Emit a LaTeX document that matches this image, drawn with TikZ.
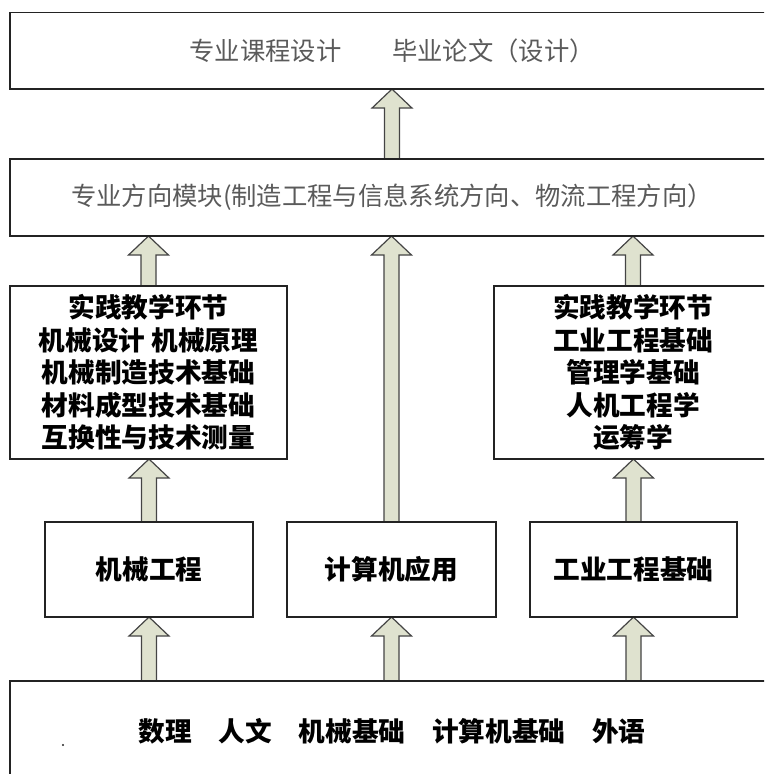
\documentclass[tikz,border=0pt]{standalone}
\usepackage{fontspec}
\setmainfont{Noto Sans CJK SC}
\usetikzlibrary{calc,backgrounds}

\definecolor{relleno}{RGB}{223,226,207}
\definecolor{borde}{RGB}{35,35,35}
\definecolor{textogris}{RGB}{90,90,90}

\tikzset{
  caja/.style={draw=borde, line width=1.1pt, outer sep=0pt, inner sep=0pt, align=center},
  cajagris/.style={caja, text=textogris, font=\fontsize{19}{23}\selectfont},
  cajanegra/.style={caja, font=\fontsize{20}{24.4}\selectfont\bfseries},
  flechabloque/.style={fill=relleno, draw=borde!85, line width=0.9pt, line join=miter},
}

% flecha gruesa desde #1 (abajo) hasta #2 (arriba)
\newcommand{\flecha}[2]{%
  \coordinate (punta) at (#1 |- #2);
  \begin{pgfonlayer}{background}
  \draw[flechabloque] ($(#1)+(-7.5,0)$) -- ($(punta)+(-7.5,19)$)
    -- ($(punta)+(-20,19)$) -- (punta) -- ($(punta)+(20,19)$)
    -- ($(punta)+(7.5,19)$) -- ($(#1)+(7.5,0)$) -- cycle;
  \end{pgfonlayer}}

\begin{document}
\begin{tikzpicture}[x=0.75pt, y=-0.75pt]
    \useasboundingbox (0,0) rectangle (764,774);
    \clip (0,0) rectangle (764,774);

    % Bloques superiores
    \node[cajagris, minimum width=573pt, minimum height=57.4pt] (diseno) at (392,50.8) {专业课程设计　　毕业论文（设计）};
    \node[cajagris, minimum width=573pt, minimum height=57.8pt] (modulo) at (392,197.5) {专业方向模块(制造工程与信息系统方向、物流工程方向）};

    % Bloques de practica
    \node[cajanegra, minimum width=207.8pt, minimum height=129.8pt] (practicaizq) at (148.5,372.5)
      {实践教学环节\\机械设计 机械原理\\机械制造技术基础\\材料成型技术基础\\互换性与技术测量};
    \node[cajanegra, minimum width=208.5pt, minimum height=129.8pt] (practicader) at (633,372.5)
      {实践教学环节\\工业工程基础\\管理学基础\\人机工程学\\运筹学};

    % Bloques de disciplina
    \node[cajanegra, minimum width=156pt, minimum height=71.3pt] (mecanica) at (149,569.5) {机械工程};
    \node[cajanegra, minimum width=156.8pt, minimum height=71.3pt] (computo) at (391.5,569.5) {计算机应用};
    \node[cajanegra, minimum width=155.3pt, minimum height=71.3pt] (industrial) at (633.5,569.5) {工业工程基础};

    % Base comun
    \node[cajanegra, minimum width=573pt, minimum height=75pt] (base) at (392,731) {数理　人文　机械基础　计算机基础　外语};
    \fill[borde] (63,745) circle (1.1);

    % Pies de las flechas sobre la base
    \coordinate (pie1) at (base.north -| mecanica.north);
    \coordinate (pie2) at (base.north -| computo.north);
    \coordinate (pie3) at (base.north -| industrial.north);

    % Flechas entre niveles
    \flecha{pie1}{mecanica.south}
    \flecha{pie2}{computo.south}
    \flecha{pie3}{industrial.south}
    \flecha{mecanica.north}{practicaizq.south}
    \flecha{industrial.north}{practicader.south}
    \flecha{computo.north}{modulo.south}
    \flecha{practicaizq.north}{modulo.south}
    \flecha{practicader.north}{modulo.south}
    \flecha{modulo.north}{diseno.south}
\end{tikzpicture}
\end{document}
